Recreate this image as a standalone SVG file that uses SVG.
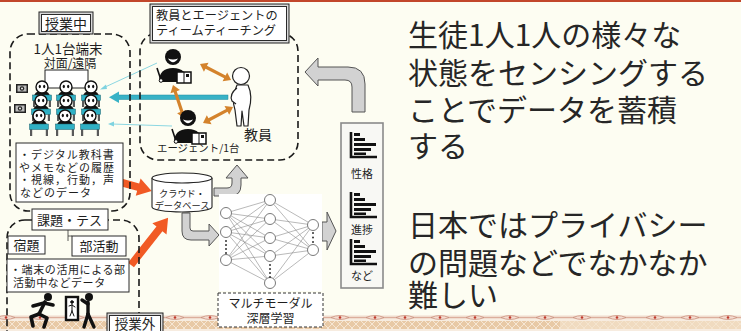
<svg xmlns="http://www.w3.org/2000/svg" xmlns:xlink="http://www.w3.org/1999/xlink" width="741" height="331" viewBox="0 0 741 331">
  <style>
    text { font-family: "Noto Sans CJK JP", "Noto Sans", sans-serif; fill: #1e1e1e; }
    .dash { fill: none; stroke: #1a1a1a; stroke-width: 1.6; stroke-dasharray: 7 4; }
    .box { fill: #ffffff; stroke: #2a2a2a; stroke-width: 1; }
    .outer { fill: #d9d9d9; stroke: #222; stroke-width: 1; }
    .gray { fill: #d2d2d2; stroke: #555; stroke-width: 1; }
    .orange { fill: #f15a24; }
    .brown { fill: #d4832c; }
    .nn line { stroke: #8a8a8a; stroke-width: 0.6; }
    .node { fill: #fff; stroke: #7a7a7a; stroke-width: 1; }
    .dot { fill: #333; }
    .big { font-size: 30px; fill: #262626; }
    .small { font-size: 11px; letter-spacing: 1px; }
  </style>
  <defs>
    <!-- seated student with tablet -->
    <g id="stu">
      <path d="M-9,9 h18 v11 h-2.2 v-7 h-13.6 v7 h-2.2 z" fill="#5a5a5a"/>
      <path d="M-8,10 Q-8,4 0,4 Q8,4 8,10 z" fill="#111"/>
      <rect x="-9.5" y="8" width="19" height="5.5" fill="#2fb0c4" stroke="#1b5f6a" stroke-width="0.5"/>
      <circle r="6" fill="#fff" stroke="#111" stroke-width="1.4"/>
      <ellipse cx="-2.2" cy="-0.5" rx="1.1" ry="1.8" fill="#111"/>
      <ellipse cx="2.2" cy="-0.5" rx="1.1" ry="1.8" fill="#111"/>
    </g>
    <!-- camera -->
    <g id="cam">
      <rect width="12" height="9" fill="#222"/>
      <rect x="1.5" y="1.5" width="9" height="6" fill="#bbb"/>
      <circle cx="6" cy="4.5" r="2.2" fill="#222"/>
      <circle cx="6" cy="4.5" r="1" fill="#eee"/>
    </g>
    <!-- agent with pointer and book -->
    <g id="agent">
      <path d="M-14,25 Q-14,11 0,11 Q14,11 14,25 z" fill="#111"/>
      <circle r="8" fill="#111"/>
      <path d="M-5,1.5 Q0,9 5,1.5 Q0,3.5 -5,1.5 z" fill="#fff"/>
      <line x1="-16" y1="11" x2="-12" y2="23" stroke="#111" stroke-width="1.6"/>
      <circle cx="-12" cy="23.5" r="1.8" fill="#fff" stroke="#111" stroke-width="1"/>
      <rect x="4" y="15" width="14" height="11" fill="#fff" stroke="#111" stroke-width="1.5"/>
      <line x1="11" y1="15" x2="11" y2="26" stroke="#111" stroke-width="1"/>
      <rect x="13" y="17" width="3" height="3" fill="#111"/>
    </g>
    <!-- horizontal bar chart icon -->
    <g id="bars">
      <path d="M1,0 V25 H27" fill="none" stroke="#111" stroke-width="2.6"/>
      <rect x="4" y="1" width="6" height="3" fill="#111"/>
      <rect x="4" y="6" width="11" height="3" fill="#111"/>
      <rect x="4" y="11" width="22" height="3" fill="#111"/>
      <rect x="4" y="16" width="17" height="3" fill="#111"/>
      <rect x="4" y="20.5" width="12" height="2.5" fill="#111"/>
    </g>
    <pattern id="hatch" width="8" height="8" patternUnits="userSpaceOnUse">
      <rect width="8" height="8" fill="#e8c9a6"/>
      <path d="M0,0 L8,8 M8,0 L0,8" stroke="#f6e6d4" stroke-width="1"/>
    </pattern>
    <g id="eye">
      <path d="M-9,0 Q0,-4 9,0 Q0,4 -9,0 z" fill="#f4dcd0" stroke="#c98f7c" stroke-width="0.8"/>
      <circle r="1.3" fill="#c0392b"/>
    </g>
  </defs>

  <!-- page -->
  <rect width="741" height="331" fill="#fdfdf2"/>
  <rect width="741" height="2" fill="#c2472b"/>

  <!-- decorative bottom border -->
  <g id="border">
    <rect x="0" y="315" width="741" height="16" fill="#f7ece0"/>
    <rect x="0" y="321" width="741" height="8" fill="url(#hatch)"/>
    <rect x="560" y="321" width="181" height="8" fill="#f3e2cc" opacity="0.7"/>
    <line x1="0" y1="317.5" x2="741" y2="317.5" stroke="#dcae9c" stroke-width="1.5"/>
    <use xlink:href="#eye" x="6" y="317.5"/>
    <use xlink:href="#eye" x="40" y="317.5"/>
    <use xlink:href="#eye" x="75" y="317.5"/>
    <use xlink:href="#eye" x="175" y="317.5"/>
    <use xlink:href="#eye" x="210" y="317.5"/>
    <use xlink:href="#eye" x="340" y="317.5"/>
    <use xlink:href="#eye" x="375" y="317.5"/>
    <use xlink:href="#eye" x="405" y="317.5"/>
    <use xlink:href="#eye" x="440" y="317.5"/>
    <use xlink:href="#eye" x="475" y="317.5"/>
    <use xlink:href="#eye" x="510" y="317.5"/>
    <use xlink:href="#eye" x="545" y="317.5"/>
    <use xlink:href="#eye" x="582" y="317.5"/>
    <use xlink:href="#eye" x="617" y="317.5"/>
    <use xlink:href="#eye" x="655" y="317.5"/>
    <use xlink:href="#eye" x="690" y="317.5"/>
    <use xlink:href="#eye" x="728" y="317.5"/>
  </g>

  <!-- connectors -->
  <g id="connectors">
    <!-- agents to students -->
    <line x1="157" y1="63" x2="103" y2="88" stroke="#7fd3e0" stroke-width="0.9"/>
    <path d="M100,89.5 L106,84.5 L107,89 z" fill="#7fd3e0"/>
    <line x1="172" y1="126" x2="112" y2="124" stroke="#7fd3e0" stroke-width="0.9"/>
    <path d="M108,124 L114,121.5 L114,126.5 z" fill="#7fd3e0"/>
    <!-- broadcast to class -->
    <rect x="117" y="95" width="111" height="4.5" fill="#38b2c6" stroke="#1f8c9e" stroke-width="0.5"/>
    <path d="M109,97.2 L119,91.5 L119,103 z" fill="#38b2c6"/>
    <!-- teacher-agent exchanges -->
    <path class="brown" d="M0,0 L7,-5 V-1.6 H28 V-5 L35,0 L28,5 V1.6 H7 V5 Z" transform="translate(200,64) rotate(27.3)"/>
    <path class="brown" d="M0,0 L7,-5 V-1.6 H28 V-5 L35,0 L28,5 V1.6 H7 V5 Z" transform="translate(173,85) rotate(71.6)"/>
    <path class="brown" d="M0,0 L7,-5 V-1.6 H27 V-5 L34,0 L27,5 V1.6 H7 V5 Z" transform="translate(203,123) rotate(-28)"/>
    <!-- data into the cloud -->
    <path class="orange" d="M0,-3.8 H23 V-9 L37,0 L23,9 V3.8 H0 Z" transform="translate(116,181) rotate(15.5)"/>
    <path class="orange" d="M0,-3.8 H46 V-9 L60,0 L46,9 V3.8 H0 Z" transform="translate(131,265) rotate(-51.8)"/>
    <!-- database to team / to network -->
    <path class="gray" d="M214,188 H227 Q232,188 232,183 V178 H226 L237,165 L248,178 H241 V185 Q241,196 230,196 H214 Z"/>
    <path class="gray" d="M182,213 V231 Q182,240 191,240 H209 V246 L219,235 L209,224 V231 H193 Q190,231 190,228 V213 Z"/>
    <!-- network to results -->
    <path class="gray" d="M322,222 H327 V212 L336,231 L327,250 V241 H322 Z"/>
    <!-- results back to the team -->
    <path class="gray" d="M352,112 V87 Q352,80 345,80 H318 V86 L305,72 L318,58 V67 H348 Q365,67 365,84 V112 Z"/>
  </g>

  <!-- in-class area -->
  <g id="in-class">
    <rect class="dash" x="10" y="34" width="120" height="177" rx="18"/>
    <text x="68" y="54" font-size="13.5" text-anchor="middle">1人1台端末</text>
    <text x="70" y="68" font-size="12" text-anchor="middle">対面/遠隔</text>
    <rect x="45" y="70" width="43" height="18" fill="#fff" stroke="#222" stroke-width="1"/>
    <use xlink:href="#cam" x="16" y="84"/>
    <use xlink:href="#cam" x="14" y="104"/>
    <use xlink:href="#stu" x="42" y="87"/>
    <use xlink:href="#stu" x="66" y="87"/>
    <use xlink:href="#stu" x="91" y="87"/>
    <use xlink:href="#stu" x="41" y="101"/>
    <use xlink:href="#stu" x="66" y="101"/>
    <use xlink:href="#stu" x="91" y="101"/>
    <use xlink:href="#stu" x="39" y="116"/>
    <use xlink:href="#stu" x="65" y="116"/>
    <use xlink:href="#stu" x="90" y="116"/>
  </g>

  <g id="label-in-class">
    <rect class="outer" x="39" y="12" width="54" height="22"/>
    <rect class="box" x="41.5" y="14.5" width="49" height="17"/>
    <text x="66" y="28.5" font-size="14" text-anchor="middle">授業中</text>
  </g>

  <g id="in-class-data">
    <rect class="box" x="16" y="143" width="107" height="59"/>
    <text class="small" x="19" y="159">・デジタル教科書</text>
    <text class="small" x="19" y="171.5">やメモなどの履歴</text>
    <text class="small" x="19" y="184">・視線，行動，声</text>
    <text class="small" x="20" y="196.5">などのデータ</text>
  </g>

  <!-- outside-class area -->
  <g id="out-class">
    <rect class="dash" x="7" y="220" width="132" height="140" rx="18"/>
    <path d="M68,230 V241 M68,236 H72" stroke="#333" stroke-width="0.8" fill="none"/>
    <rect class="box" x="8" y="236" width="37" height="18"/>
    <text x="26.5" y="250" font-size="13" text-anchor="middle">宿題</text>
    <rect class="box" x="72" y="236" width="54" height="20"/>
    <text x="99" y="251" font-size="13" text-anchor="middle">部活動</text>
    <rect class="box" x="7" y="259" width="122" height="33"/>
    <text x="10" y="274" font-size="11" letter-spacing="0.6">・端末の活用による部</text>
    <text x="13" y="287" font-size="11" letter-spacing="0.6">活動中などデータ</text>
    <!-- runner -->
    <g fill="none" stroke="#111" stroke-width="3.6" stroke-linecap="round" stroke-linejoin="round">
      <path d="M45,302 L39,314"/>
      <path d="M33,306 L44,303 L53,305"/>
      <path d="M39,314 L31,317 L33,326"/>
      <path d="M39,314 L47,318 L44,327"/>
    </g>
    <circle cx="48" cy="297" r="4" fill="#111"/>
    <!-- phone with figure -->
    <rect x="66" y="297" width="12" height="23" fill="#fff" stroke="#111" stroke-width="2.4"/>
    <g fill="none" stroke="#111" stroke-width="1" stroke-linecap="round">
      <circle cx="72" cy="302" r="1.3" fill="#111"/>
      <path d="M72,304 V311 M72,311 L70,316 M72,311 L74,316 M69,306 L72,305 L75,307"/>
    </g>
    <!-- person pointing at phone -->
    <circle cx="89" cy="297" r="4" fill="#111"/>
    <g fill="none" stroke="#111" stroke-width="3.4" stroke-linecap="round" stroke-linejoin="round">
      <path d="M88,302 L88,314"/>
      <path d="M88,304 L82,300"/>
      <path d="M88,314 L84,327"/>
      <path d="M88,314 L94,327"/>
    </g>
  </g>

  <g id="label-task">
    <rect class="box" x="32" y="209" width="76" height="21"/>
    <text x="37" y="225" font-size="13">課題・テス</text>
  </g>

  <g id="label-out-class">
    <rect class="outer" x="107" y="313" width="56" height="22"/>
    <rect class="box" x="109.5" y="315.5" width="51" height="18"/>
    <text x="135" y="328.5" font-size="13.5" text-anchor="middle">授業外</text>
  </g>

  <!-- team teaching area -->
  <g id="team">
    <rect class="dash" x="140" y="33" width="158" height="127" rx="18"/>
    <use xlink:href="#agent" x="173" y="57"/>
    <use xlink:href="#agent" x="188" y="118"/>
    <!-- teacher -->
    <g fill="#fff" stroke="#222" stroke-width="1.2" stroke-linejoin="round">
      <path d="M237,85 Q231,98 235,110 L237,126 L241,126 L242,111 L244,126 L248,126 L249,110 Q253,96 248,85 Z"/>
      <path d="M237,88 Q229,94 232,101 L236,104"/>
      <circle cx="241" cy="76" r="8.5"/>
    </g>
    <text x="258" y="140" font-size="14" text-anchor="middle">教員</text>
    <text x="157" y="152" font-size="10.4">エージェント/1台</text>
  </g>

  <g id="label-team">
    <rect class="outer" x="150" y="4" width="139" height="39"/>
    <rect class="box" x="152.5" y="6.5" width="134" height="34"/>
    <text x="156" y="19.5" font-size="12.2">教員とエージェントの</text>
    <text x="156" y="34.5" font-size="12.2">ティームティーチング</text>
  </g>

  <!-- cloud database -->
  <g id="database">
    <path d="M152,178 V207 A30,5 0 0 0 212,207 V178" fill="#fff" stroke="#222" stroke-width="1.1"/>
    <ellipse cx="182" cy="178" rx="30" ry="5" fill="#fff" stroke="#222" stroke-width="1.1"/>
    <text x="182" y="197" font-size="9.2" text-anchor="middle">クラウド・</text>
    <text x="182" y="209" font-size="9.2" text-anchor="middle">データベース</text>
  </g>

  <!-- neural network -->
  <g id="network" class="nn">
    <rect x="219" y="194" width="103" height="97" fill="#fff"/>
    <g>
      <line x1="226" y1="213" x2="270" y2="200"/><line x1="226" y1="213" x2="270" y2="219"/><line x1="226" y1="213" x2="270" y2="238"/><line x1="226" y1="213" x2="270" y2="256"/><line x1="226" y1="213" x2="270" y2="283"/>
      <line x1="226" y1="232" x2="270" y2="200"/><line x1="226" y1="232" x2="270" y2="219"/><line x1="226" y1="232" x2="270" y2="238"/><line x1="226" y1="232" x2="270" y2="256"/><line x1="226" y1="232" x2="270" y2="283"/>
      <line x1="226" y1="260" x2="270" y2="200"/><line x1="226" y1="260" x2="270" y2="219"/><line x1="226" y1="260" x2="270" y2="238"/><line x1="226" y1="260" x2="270" y2="256"/><line x1="226" y1="260" x2="270" y2="283"/>
      <line x1="270" y1="200" x2="313" y2="225"/><line x1="270" y1="200" x2="313" y2="250"/>
      <line x1="270" y1="219" x2="313" y2="225"/><line x1="270" y1="219" x2="313" y2="250"/>
      <line x1="270" y1="238" x2="313" y2="225"/><line x1="270" y1="238" x2="313" y2="250"/>
      <line x1="270" y1="256" x2="313" y2="225"/><line x1="270" y1="256" x2="313" y2="250"/>
      <line x1="270" y1="283" x2="313" y2="225"/><line x1="270" y1="283" x2="313" y2="250"/>
    </g>
    <circle class="node" cx="226" cy="213" r="5.5"/>
    <circle class="node" cx="226" cy="232" r="5.5"/>
    <circle class="node" cx="226" cy="260" r="5.5"/>
    <circle class="node" cx="270" cy="200" r="5.5"/>
    <circle class="node" cx="270" cy="219" r="5.5"/>
    <circle class="node" cx="270" cy="238" r="5.5"/>
    <circle class="node" cx="270" cy="256" r="5.5"/>
    <circle class="node" cx="270" cy="283" r="5.5"/>
    <circle class="node" cx="313" cy="225" r="5.5"/>
    <circle class="node" cx="313" cy="250" r="5.5"/>
    <circle class="dot" cx="226" cy="241" r="1"/><circle class="dot" cx="226" cy="245" r="1"/><circle class="dot" cx="226" cy="249" r="1"/><circle class="dot" cx="226" cy="253" r="1"/>
    <circle class="dot" cx="270" cy="265" r="1"/><circle class="dot" cx="270" cy="269" r="1"/><circle class="dot" cx="270" cy="273" r="1"/><circle class="dot" cx="270" cy="277" r="1"/>
    <circle class="dot" cx="313" cy="233" r="1"/><circle class="dot" cx="313" cy="237.5" r="1"/><circle class="dot" cx="313" cy="242" r="1"/>
  </g>

  <g id="label-network">
    <rect x="218" y="293" width="105" height="34" fill="#fff" stroke="#333" stroke-width="1" stroke-dasharray="3 2"/>
    <text x="270.5" y="308" font-size="12" text-anchor="middle">マルチモーダル</text>
    <text x="270.5" y="323" font-size="12" text-anchor="middle">深層学習</text>
  </g>

  <!-- estimated attributes -->
  <g id="results">
    <rect x="341" y="123" width="42" height="165" fill="#f8f8f4" stroke="#8a8a8a" stroke-width="1.6"/>
    <use xlink:href="#bars" x="350" y="132"/>
    <text x="362" y="178" font-size="11" text-anchor="middle">性格</text>
    <use xlink:href="#bars" x="350" y="192"/>
    <text x="362" y="234" font-size="11" text-anchor="middle">進捗</text>
    <use xlink:href="#bars" x="350" y="239"/>
    <text x="362" y="280" font-size="11" text-anchor="middle">など</text>
  </g>

  <!-- commentary -->
  <g id="notes">
    <text class="big" x="408" y="46">生徒1人1人の様々な</text>
    <text class="big" x="408" y="84">状態をセンシングする</text>
    <text class="big" x="408" y="121">ことでデータを蓄積</text>
    <text class="big" x="408" y="157">する</text>
    <text class="big" x="408" y="236">日本ではプライバシー</text>
    <text class="big" x="408" y="274">の問題などでなかなか</text>
    <text class="big" x="408" y="306">難しい</text>
  </g>
</svg>
